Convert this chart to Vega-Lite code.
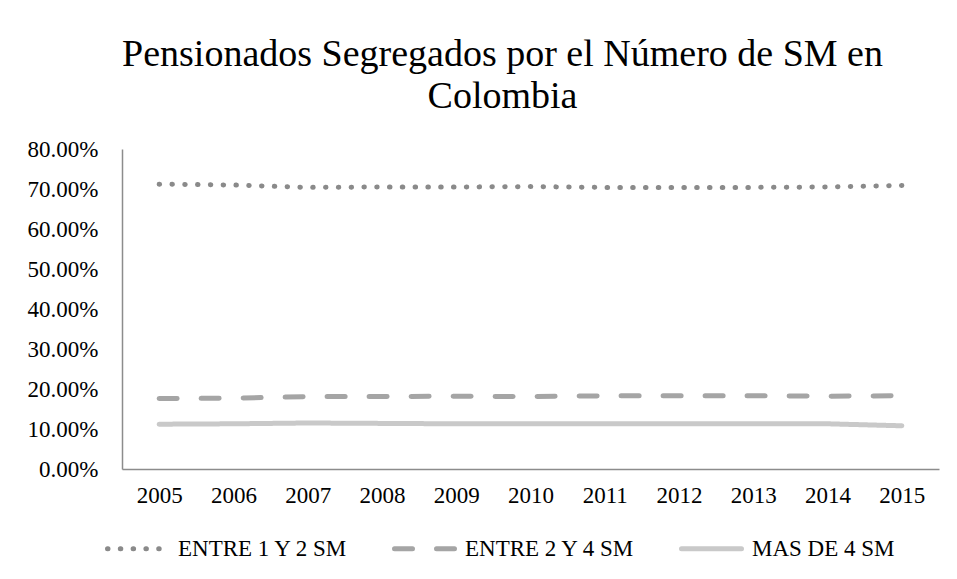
{
  "$schema": "https://vega.github.io/schema/vega-lite/v6.json",
  "autosize": "none",
  "width": 817,
  "height": 320,
  "padding": {"left": 122, "top": 149, "right": 18, "bottom": 110},
  "background": "white",
  "title": {
    "text": ["Pensionados Segregados por el Número de SM en", "Colombia"],
    "font": "Liberation Serif",
    "fontSize": 38,
    "fontWeight": "normal",
    "lineHeight": 42,
    "color": "black",
    "anchor": "middle",
    "dx": -28,
    "offset": 22
  },
  "data": {
    "values": [
      {"year": "2005", "serie": "ENTRE 1 Y 2 SM", "value": 0.712},
      {"year": "2006", "serie": "ENTRE 1 Y 2 SM", "value": 0.710},
      {"year": "2007", "serie": "ENTRE 1 Y 2 SM", "value": 0.704},
      {"year": "2008", "serie": "ENTRE 1 Y 2 SM", "value": 0.705},
      {"year": "2009", "serie": "ENTRE 1 Y 2 SM", "value": 0.705},
      {"year": "2010", "serie": "ENTRE 1 Y 2 SM", "value": 0.706},
      {"year": "2011", "serie": "ENTRE 1 Y 2 SM", "value": 0.704},
      {"year": "2012", "serie": "ENTRE 1 Y 2 SM", "value": 0.704},
      {"year": "2013", "serie": "ENTRE 1 Y 2 SM", "value": 0.704},
      {"year": "2014", "serie": "ENTRE 1 Y 2 SM", "value": 0.705},
      {"year": "2015", "serie": "ENTRE 1 Y 2 SM", "value": 0.709},
      {"year": "2005", "serie": "ENTRE 2 Y 4 SM", "value": 0.176},
      {"year": "2006", "serie": "ENTRE 2 Y 4 SM", "value": 0.177},
      {"year": "2007", "serie": "ENTRE 2 Y 4 SM", "value": 0.181},
      {"year": "2008", "serie": "ENTRE 2 Y 4 SM", "value": 0.181},
      {"year": "2009", "serie": "ENTRE 2 Y 4 SM", "value": 0.182},
      {"year": "2010", "serie": "ENTRE 2 Y 4 SM", "value": 0.181},
      {"year": "2011", "serie": "ENTRE 2 Y 4 SM", "value": 0.183},
      {"year": "2012", "serie": "ENTRE 2 Y 4 SM", "value": 0.183},
      {"year": "2013", "serie": "ENTRE 2 Y 4 SM", "value": 0.183},
      {"year": "2014", "serie": "ENTRE 2 Y 4 SM", "value": 0.182},
      {"year": "2015", "serie": "ENTRE 2 Y 4 SM", "value": 0.183},
      {"year": "2005", "serie": "MAS DE 4 SM", "value": 0.112},
      {"year": "2006", "serie": "MAS DE 4 SM", "value": 0.113},
      {"year": "2007", "serie": "MAS DE 4 SM", "value": 0.115},
      {"year": "2008", "serie": "MAS DE 4 SM", "value": 0.114},
      {"year": "2009", "serie": "MAS DE 4 SM", "value": 0.113},
      {"year": "2010", "serie": "MAS DE 4 SM", "value": 0.113},
      {"year": "2011", "serie": "MAS DE 4 SM", "value": 0.113},
      {"year": "2012", "serie": "MAS DE 4 SM", "value": 0.113},
      {"year": "2013", "serie": "MAS DE 4 SM", "value": 0.113},
      {"year": "2014", "serie": "MAS DE 4 SM", "value": 0.113},
      {"year": "2015", "serie": "MAS DE 4 SM", "value": 0.108}
    ]
  },
  "mark": {"type": "line", "strokeWidth": 5, "strokeCap": "round", "strokeJoin": "round"},
  "encoding": {
    "x": {
      "field": "year",
      "type": "ordinal",
      "scale": {"type": "point", "padding": 0.5},
      "axis": {
        "title": null,
        "labelAngle": 0,
        "labelFont": "Liberation Serif",
        "labelFontSize": 23,
        "labelColor": "black",
        "ticks": false,
        "tickSize": 0,
        "labelPadding": 15,
        "domainColor": "#8c8c8c",
        "domainWidth": 1.5,
        "grid": false
      }
    },
    "y": {
      "field": "value",
      "type": "quantitative",
      "scale": {"domain": [0, 0.8], "nice": false, "zero": true},
      "axis": {
        "title": null,
        "format": ".2%",
        "values": [0, 0.1, 0.2, 0.3, 0.4, 0.5, 0.6, 0.7, 0.8],
        "labelFont": "Liberation Serif",
        "labelFontSize": 23,
        "labelColor": "black",
        "ticks": false,
        "tickSize": 0,
        "labelPadding": 24,
        "domainColor": "#8c8c8c",
        "domainWidth": 1.5,
        "grid": false
      }
    },
    "color": {
      "field": "serie",
      "type": "nominal",
      "scale": {
        "domain": ["ENTRE 1 Y 2 SM", "ENTRE 2 Y 4 SM", "MAS DE 4 SM"],
        "range": ["#8a8a8a", "#a5a5a5", "#c9c9c9"]
      },
      "legend": {
        "title": null,
        "orient": "none",
        "direction": "horizontal",
        "legendX": -17,
        "legendY": 367,
        "symbolType": "stroke",
        "symbolSize": 3600,
        "symbolStrokeWidth": 5,
        "labelFont": "Liberation Serif",
        "labelFontSize": 23,
        "labelColor": "black",
        "labelOffset": 8,
        "columnPadding": 36,
        "labelLimit": 400,
        "encode": {"symbols": {"update": {"strokeCap": {"value": "round"}}}}
      }
    },
    "strokeDash": {
      "field": "serie",
      "type": "nominal",
      "scale": {
        "domain": ["ENTRE 1 Y 2 SM", "ENTRE 2 Y 4 SM", "MAS DE 4 SM"],
        "range": [[0.5, 12.3], [18, 24], [1, 0]]
      },
      "legend": null
    }
  },
  "config": {
    "view": {"stroke": null},
    "font": "Liberation Serif"
  }
}
